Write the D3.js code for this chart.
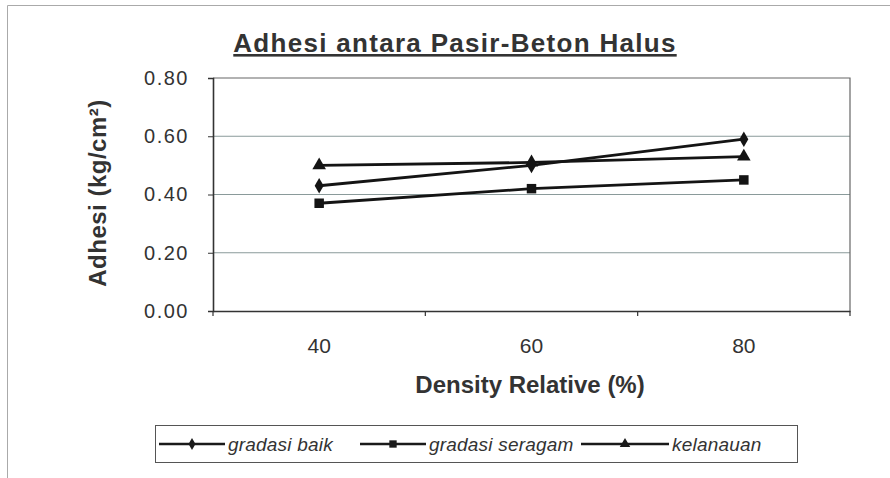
<!DOCTYPE html>
<meta charset="utf-8">
<style>
body { margin: 0; background: #fff; }
svg { font-family: 'Liberation Sans', Arial, sans-serif; }
</style>
<body>
<script src="https://cdnjs.cloudflare.com/ajax/libs/d3/7.8.5/d3.min.js"></script>
<script>

// data
var categories = ["40", "60", "80"];
var gradasiBaik = [0.43, 0.50, 0.59];
var gradasiSeragam = [0.37, 0.42, 0.45];
var kelanauan = [0.50, 0.51, 0.53];
var yTicks = [0, 0.2, 0.4, 0.6, 0.8];
var seriesNames = ["gradasi baik", "gradasi seragam", "kelanauan"];

var series = [
  {name: seriesNames[0], values: gradasiBaik, symbol: d3.symbolDiamond, size: 70},
  {name: seriesNames[1], values: gradasiSeragam, symbol: d3.symbolSquare, size: 90},
  {name: seriesNames[2], values: kelanauan, symbol: d3.symbolTriangle, size: 80}
];

var width = 890, height = 478;
var margin = {top: 78, left: 213};
var w = 850 - margin.left, h = 311 - margin.top;

var svg = d3.select("body").append("svg")
    .attr("width", width)
    .attr("height", height);

// outer chart frame (only top and left edges show)
svg.append("path")
    .attr("d", "M7.5,478V5.5H890")
    .style("fill", "none").style("stroke", "#aaa").style("stroke-width", 1);

var g = svg.append("g")
    .attr("transform", "translate(" + margin.left + "," + margin.top + ")");

var x = d3.scaleBand().domain(categories).range([0, w]);
var y = d3.scaleLinear().domain([0, 0.8]).range([h, 0]);

// gridlines
g.selectAll(".grid").data(yTicks.slice(1, 4))
  .enter().append("line")
    .attr("x1", 0).attr("x2", w)
    .attr("y1", d => y(d)).attr("y2", d => y(d))
    .style("stroke", "#8a9a9a").style("stroke-width", 1);

// plot border top/right
g.append("path")
    .attr("d", "M0," + y(0.8) + "H" + w + "V" + h)
    .style("fill", "none").style("stroke", "#666").style("stroke-width", 1.2);

// y axis
var yAxis = d3.axisLeft(y).tickValues(yTicks).tickFormat(d3.format(".2f")).tickSize(5).tickPadding(19);
g.append("g").attr("class", "yaxis").call(yAxis);

// x axis with ticks between categories
var xAxis = d3.axisBottom(x).tickSize(0).tickPadding(27);
var xa = g.append("g").attr("class", "xaxis").attr("transform", "translate(0," + h + ")").call(xAxis);
xa.selectAll(".sep").data(d3.range(categories.length + 1))
  .enter().append("line")
    .attr("x1", i => i * x.bandwidth()).attr("x2", i => i * x.bandwidth())
    .attr("y1", 0).attr("y2", 5)
    .style("stroke", "#333").style("stroke-width", 1.2);

svg.selectAll(".domain").style("stroke", "#333").style("stroke-width", 1.6);
svg.selectAll(".tick line").style("stroke", "#333");
svg.selectAll(".tick text").style("fill", "#333")
    .style("font-family", "'Liberation Sans', Arial, sans-serif");
svg.select(".yaxis").selectAll(".tick text").style("font-size", "20px").style("letter-spacing", "1.5px");
svg.select(".xaxis").selectAll(".tick text").style("font-size", "21px");

// lines
var line = d3.line()
    .x((d, i) => x(categories[i]) + x.bandwidth() / 2)
    .y(d => y(d));

series.forEach(function(s) {
  g.append("path")
      .datum(s.values)
      .attr("d", line)
      .style("fill", "none").style("stroke", "#141414").style("stroke-width", 2.8);
  g.selectAll(null).data(s.values)
    .enter().append("path")
      .attr("d", d3.symbol().type(s.symbol).size(s.size))
      .attr("transform", (d, i) => "translate(" + (x(categories[i]) + x.bandwidth() / 2) + "," + y(d) + ")")
      .style("fill", "#141414");
});

// title
svg.append("text")
    .attr("x", 455).attr("y", 52)
    .style("text-anchor", "middle")
    .style("font-size", "26px").style("font-weight", "bold")
    .style("letter-spacing", "1.3px")
    .style("fill", "#333")
    .style("text-decoration", "underline")
    .text("Adhesi antara Pasir-Beton Halus");

// axis titles
svg.append("text")
    .attr("transform", "translate(106,193) rotate(-90)")
    .style("text-anchor", "middle")
    .style("font-size", "24px").style("font-weight", "bold").style("fill", "#333")
    .style("letter-spacing", "0.5px")
    .text("Adhesi (kg/cm²)");

svg.append("text")
    .attr("x", 530).attr("y", 393)
    .style("text-anchor", "middle")
    .style("font-size", "24px").style("font-weight", "bold").style("fill", "#333")
    .text("Density Relative (%)");

// legend
var legend = svg.append("g").attr("transform", "translate(155,425)");
legend.append("rect")
    .attr("x", 0.5).attr("y", 0.5).attr("width", 642).attr("height", 37)
    .style("fill", "none").style("stroke", "#555").style("stroke-width", 1);

var legendX = [4, 205, 426];
var legendLen = [66, 66, 88];
series.forEach(function(s, i) {
  var lg = legend.append("g").attr("transform", "translate(" + legendX[i] + ",19)");
  lg.append("line").attr("x1", 0).attr("x2", legendLen[i]).attr("y1", 0).attr("y2", 0)
      .style("stroke", "#1a1a1a").style("stroke-width", 2.4);
  lg.append("path").attr("d", d3.symbol().type(s.symbol).size(s.size * 0.6))
      .attr("transform", "translate(" + (legendLen[i] / 2) + ",0)").style("fill", "#1a1a1a");
  lg.append("text").attr("x", legendLen[i] + 3).attr("y", 7)
      .style("font-size", "19px").style("font-style", "italic").style("fill", "#333")
      .style("letter-spacing", "0.2px")
      .text(s.name);
});

</script>
</body>
